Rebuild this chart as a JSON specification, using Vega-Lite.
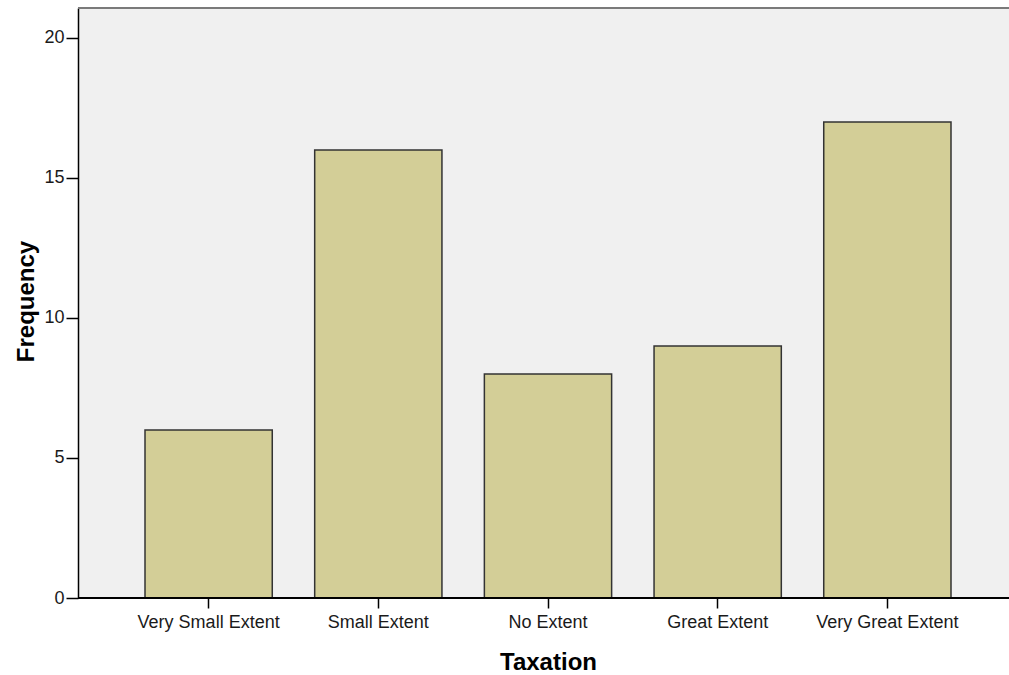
{
  "$schema": "https://vega.github.io/schema/vega-lite/v6.json",
  "width": 931,
  "height": 590,
  "autosize": {"type": "none"},
  "padding": {"left": 78, "top": 8, "right": 0, "bottom": 77},
  "background": "#ffffff",
  "config": {
    "font": "Liberation Sans",
    "view": {"fill": "#f0f0f0", "stroke": null}
  },
  "data": {
    "values": [
      {"Taxation": "Very Small Extent", "Frequency": 6},
      {"Taxation": "Small Extent", "Frequency": 16},
      {"Taxation": "No Extent", "Frequency": 8},
      {"Taxation": "Great Extent", "Frequency": 9},
      {"Taxation": "Very Great Extent", "Frequency": 17}
    ]
  },
  "layer": [
    {
      "mark": {"type": "rule", "color": "#7a7a7a", "strokeWidth": 2},
      "encoding": {
        "y": {"datum": 21.07, "type": "quantitative"}
      }
    },
    {
      "mark": {"type": "bar", "fill": "#d3ce97", "stroke": "#333333", "strokeWidth": 1.5},
      "encoding": {
        "x": {
          "field": "Taxation",
          "type": "nominal",
          "sort": null,
          "scale": {"range": [67, 873], "paddingInner": 0.25, "paddingOuter": 0},
          "axis": {
            "title": "Taxation",
            "titleFontSize": 24,
            "titleFontWeight": "bold",
            "titleColor": "#000000",
            "titleBaseline": "alphabetic",
            "titleX": 470,
            "titleY": 71,
            "labelAngle": 0,
            "labelFontSize": 18,
            "labelColor": "#1a1a1a",
            "labelPadding": 5,
            "labelBaseline": "top",
            "tickSize": 10,
            "tickColor": "#000000",
            "tickWidth": 1.5,
            "domain": false
          }
        },
        "y": {
          "field": "Frequency",
          "type": "quantitative",
          "scale": {"domain": [0, 21.07], "nice": false, "zero": true},
          "axis": {
            "title": "Frequency",
            "titleFontSize": 24,
            "titleFontWeight": "bold",
            "titleColor": "#000000",
            "titleBaseline": "alphabetic",
            "titleAngle": -90,
            "titleX": -45,
            "titleY": 293,
            "values": [0, 5, 10, 15, 20],
            "grid": false,
            "labelFontSize": 18,
            "labelColor": "#1a1a1a",
            "labelPadding": 2,
            "tickSize": 12,
            "tickColor": "#000000",
            "tickWidth": 1.5,
            "domainColor": "#000000",
            "domainWidth": 1.5
          }
        }
      }
    },
    {
      "mark": {"type": "rule", "color": "#000000", "strokeWidth": 1.5},
      "encoding": {
        "y": {"datum": 0, "type": "quantitative"}
      }
    }
  ]
}
